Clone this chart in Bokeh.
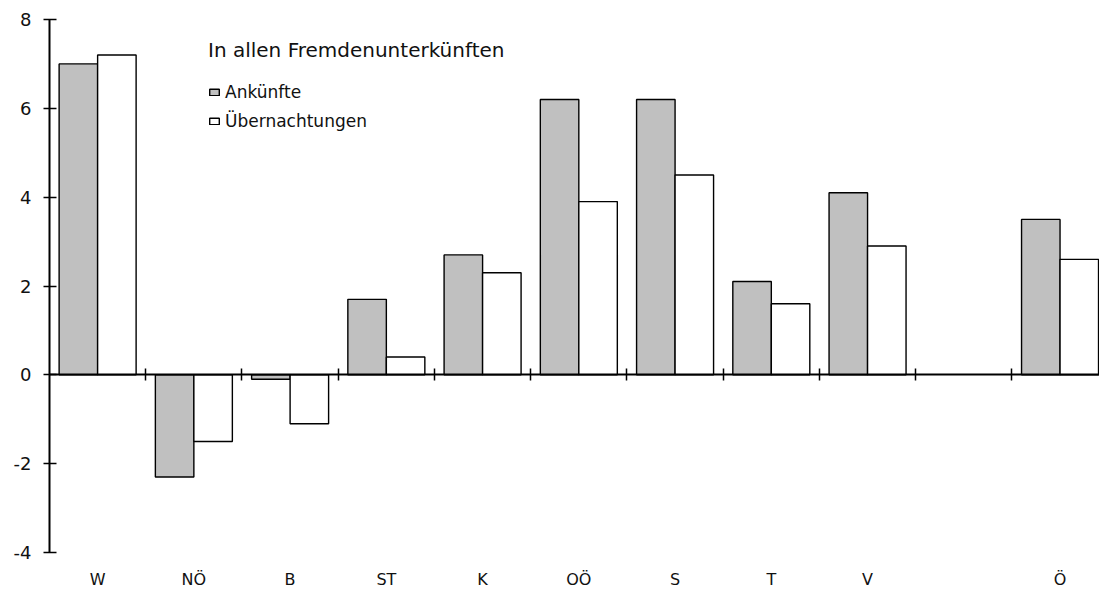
from bokeh.plotting import figure
from bokeh.models import (Range1d, LinearAxis, FixedTicker, Legend, LegendItem,
                          ColumnDataSource)
from bokeh.embed import file_html
from bokeh.resources import INLINE
import numpy as np

categories = ["W", "NÖ", "B", "ST", "K", "OÖ", "S", "T", "V", "", "Ö"]
ankuenfte = [7.0, -2.3, -0.1, 1.7, 2.7, 6.2, 6.2, 2.1, 4.1, float("nan"), 3.5]
uebernachtungen = [7.2, -1.5, -1.1, 0.4, 2.3, 3.9, 4.5, 1.6, 2.9, float("nan"), 2.6]
y_ticks = [-4, -2, 0, 2, 4, 6, 8]
title_text = "In allen Fremdenunterkünften"
series_names = ["Ankünfte", "Übernachtungen"]

FONT = "DejaVu Sans"
idx = np.arange(len(categories))

src = ColumnDataSource(dict(
    xa=idx + 0.3, xu=idx + 0.7, a=ankuenfte, u=uebernachtungen))

p = figure(width=1099, height=591, output_backend="svg", toolbar_location=None,
           x_range=Range1d(0, 10.91), y_range=Range1d(-4.878, 8),
           x_axis_type=None, y_axis_type=None,
           min_border_left=49, min_border_right=0, min_border_top=19,
           min_border_bottom=0)
p.outline_line_color = None
p.xgrid.visible = False
p.ygrid.visible = False
p.background_fill_color = "white"
p.border_fill_color = "white"

ra = p.vbar(x="xa", top="a", bottom=0, width=0.4, source=src,
            fill_color="#C0C0C0", line_color="black", line_width=1.4)
ru = p.vbar(x="xu", top="u", bottom=0, width=0.4, source=src,
            fill_color="white", line_color="black", line_width=1.4)

# y axis
yax = LinearAxis(ticker=FixedTicker(ticks=y_ticks), bounds=(-4, 8))
yax.major_label_overrides = {t: str(t) for t in y_ticks}
yax.axis_line_width = 2
yax.major_tick_in = 7
yax.major_tick_out = 6
yax.major_tick_line_width = 1.5
yax.minor_tick_line_color = None
yax.major_label_standoff = 12
yax.major_label_text_font = FONT
yax.major_label_text_font_size = "18px"
yax.major_label_text_color = "#111111"
p.add_layout(yax, "left")

# category labels below the plot
lab_ax = LinearAxis(fixed_location=-4, ticker=FixedTicker(ticks=list(idx + 0.5)))
lab_ax.major_label_overrides = {float(i + 0.5): c for i, c in enumerate(categories)}
lab_ax.axis_line_color = None
lab_ax.major_tick_line_color = None
lab_ax.major_tick_out = 0
lab_ax.major_tick_in = 0
lab_ax.minor_tick_line_color = None
lab_ax.major_label_standoff = 17
lab_ax.major_label_text_font = FONT
lab_ax.major_label_text_font_size = "16px"
lab_ax.major_label_text_color = "#111111"
p.add_layout(lab_ax, "below")

# zero line with category separators
zero_ax = LinearAxis(fixed_location=0, ticker=FixedTicker(ticks=list(idx[1:])))
zero_ax.axis_line_width = 2
zero_ax.major_tick_in = 6
zero_ax.major_tick_out = 6
zero_ax.major_tick_line_width = 1.5
zero_ax.minor_tick_line_color = None
zero_ax.major_label_text_color = None
zero_ax.major_label_text_font_size = "1px"
p.add_layout(zero_ax, "below")

legend = Legend(items=[LegendItem(label=series_names[0], renderers=[ra]),
                       LegendItem(label=series_names[1], renderers=[ru])],
                location=(159, 460), title=title_text)
legend.border_line_color = None
legend.background_fill_alpha = 0
legend.padding = 0
legend.margin = 0
legend.title_text_font = FONT
legend.title_text_font_size = "20px"
legend.title_text_font_style = "normal"
legend.title_text_color = "#111111"
legend.title_standoff = 20
legend.label_text_font = FONT
legend.label_text_font_size = "17px"
legend.label_text_color = "#111111"
legend.glyph_width = 12
legend.glyph_height = 8
legend.label_height = 20
legend.spacing = 9
legend.label_standoff = 5
p.add_layout(legend, "center")

open("out.html", "w").write(file_html(p, INLINE))
